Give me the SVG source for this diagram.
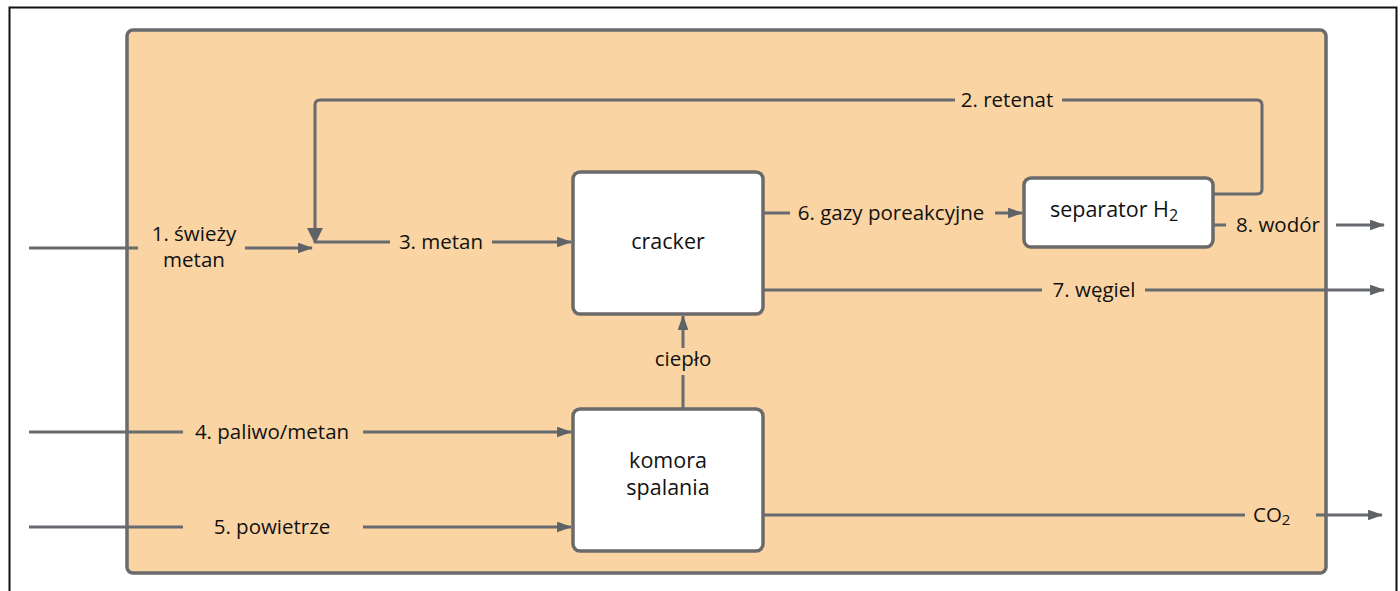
<svg xmlns="http://www.w3.org/2000/svg" width="1400" height="591" viewBox="0 0 1400 591">
<defs>
<marker id="arr" viewBox="0 0 14 10" refX="13" refY="5" markerWidth="15" markerHeight="11" markerUnits="userSpaceOnUse" orient="auto">
<path d="M0,0 L14,5 L0,10 Z" fill="#5f6368"/>
</marker>
<style>
.ln{fill:none;stroke:#676a6e;stroke-width:3}
.ar{fill:none;stroke:#676a6e;stroke-width:3;marker-end:url(#arr)}
.box{fill:#ffffff;stroke:#6a6a6a;stroke-width:3.5}
.t{font-family:"Open Sans","Noto Sans",sans-serif;font-size:20.5px;fill:#111}
.tb{font-family:"Open Sans","Noto Sans",sans-serif;font-size:21.5px;fill:#111;text-anchor:middle}
</style>
</defs>
<rect width="1400" height="591" fill="#fff"/>
<path d="M9.5,591 V7.5 H1396.5 V591" fill="none" stroke="#111" stroke-width="2"/>
<g id="system">
<rect x="127" y="30" width="1199" height="543" rx="6" fill="#fad4a2" stroke="#6a6a6e" stroke-width="3.5"/>
</g>
<g id="connectors">
<line class="ln" x1="29" y1="248" x2="138" y2="248"/>
<line class="ar" x1="245" y1="248" x2="312" y2="248"/>
<text class="t" x="194" y="241" text-anchor="middle" font-size="19.5">1. świeży</text>
<text class="t" x="194" y="267" text-anchor="middle" font-size="19.5">metan</text>
<path class="ln" d="M1213,194 H1257 Q1262,194 1262,189 V105 Q1262,100 1257,100 H1062"/>
<path class="ln" d="M955,100 H320 Q315,100 315,105 V243"/>
<path d="M307,228 L323,228 L315,244 Z" fill="#5f6368"/>
<text class="t" x="1007" y="107" text-anchor="middle">2. retenat</text>
<line class="ln" x1="315" y1="242" x2="390" y2="242"/>
<line class="ar" x1="492" y1="242" x2="571" y2="242"/>
<text class="t" x="441" y="249" text-anchor="middle">3. metan</text>
<line class="ln" x1="763" y1="213" x2="790" y2="213"/>
<line class="ar" x1="995" y1="213" x2="1022" y2="213"/>
<text class="t" x="891" y="220" text-anchor="middle">6. gazy poreakcyjne</text>
<line class="ln" x1="1213" y1="225" x2="1226" y2="225"/>
<line class="ar" x1="1336" y1="225" x2="1384" y2="225"/>
<text class="t" x="1278" y="232" text-anchor="middle">8. wodór</text>
<line class="ln" x1="763" y1="290" x2="1042" y2="290"/>
<line class="ar" x1="1145" y1="290" x2="1384" y2="290"/>
<text class="t" x="1094" y="297" text-anchor="middle">7. węgiel</text>
<line class="ln" x1="683" y1="408" x2="683" y2="375"/>
<line class="ar" x1="683" y1="348" x2="683" y2="316"/>
<text class="t" x="683" y="366" text-anchor="middle">ciepło</text>
<line class="ln" x1="29" y1="432" x2="183" y2="432"/>
<line class="ar" x1="363" y1="432" x2="571" y2="432"/>
<text class="t" x="272" y="439" text-anchor="middle">4. paliwo/metan</text>
<line class="ln" x1="29" y1="527" x2="183" y2="527"/>
<line class="ar" x1="363" y1="527" x2="571" y2="527"/>
<text class="t" x="272" y="534" text-anchor="middle">5. powietrze</text>
<line class="ln" x1="763" y1="515" x2="1245" y2="515"/>
<line class="ar" x1="1316" y1="515" x2="1382" y2="515"/>
<text class="t" x="1253" y="522">CO<tspan font-size="15" dy="3">2</tspan></text>
</g>
<g id="cracker">
<rect class="box" x="573" y="172" width="190" height="142" rx="7"/>
<text class="tb" x="668" y="249">cracker</text>
</g>
<g id="komora">
<rect class="box" x="573" y="409" width="190" height="142" rx="7"/>
<text class="tb" x="668" y="468">komora</text>
<text class="tb" x="668" y="495">spalania</text>
</g>
<g id="separator">
<rect class="box" x="1024" y="178" width="189" height="69" rx="7"/>
<text class="tb" x="1114" y="217">separator H<tspan font-size="16" dy="4">2</tspan></text>
</g>
</svg>
